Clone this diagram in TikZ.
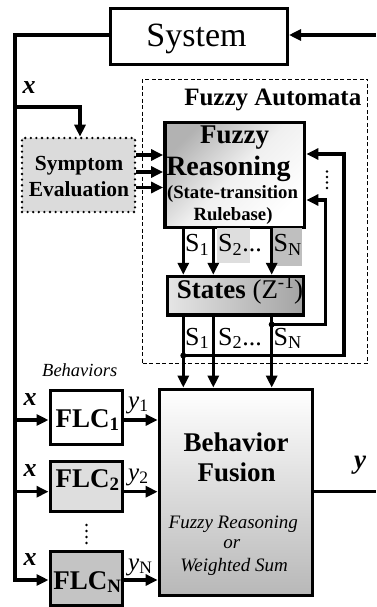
\documentclass[tikz,border=0pt]{standalone}
\usepackage{fontspec}
\setmainfont{Liberation Serif}
\usetikzlibrary{arrows.meta}
\newcommand{\fsz}[1]{\fontsize{#1}{#1}\selectfont}
\begin{document}
\begin{tikzpicture}[x=1pt,y=-1pt,
  conn/.style={line width=3.3pt},
  arr/.style={conn,-{Triangle[length=12pt,width=11pt]}},
  box/.style={draw,line width=3pt,inner sep=0pt,rectangle},
  txt/.style={inner sep=0pt,anchor=base},
  sympbox/.style={draw,line width=2.6pt,dash pattern=on 0pt off 5.6pt,line cap=round,fill=black!14,inner sep=0pt},
  autobox/.style={draw,line width=0.8pt,dash pattern=on 4pt off 2.5pt,inner sep=0pt},
]
\useasboundingbox (0,0) rectangle (376,607);

% dashed automata frame
\node[autobox,minimum width=225pt,minimum height=284.3pt] (fa) at (255.2,221.15) {};
\node[txt,anchor=base east,font=\bfseries\fsz{25}] (fatxt) at (361.5,106) {Fuzzy Automata};

% boxes
\node[box,minimum width=177pt,minimum height=56pt,fill=white] (sys) at (199,36.5) {};
\node[sympbox,minimum width=113pt,minimum height=74pt] (symp) at (78.5,175) {};
\node[box,line width=3.8pt,minimum width=139.5pt,minimum height=105pt,top color=black!30,bottom color=white,middle color=black!6,shading angle=45] (fr) at (234.75,175) {};
\node[box,line width=3.5pt,minimum width=136pt,minimum height=38.5pt,left color=black!10,right color=black!36] (st) at (235.5,295.75) {};
\node[box,line width=3.8pt,minimum width=153pt,minimum height=206pt,top color=white,bottom color=black!28] (bf) at (236,492.5) {};
\node[box,minimum width=72pt,minimum height=54pt,fill=white] (flc1) at (86,417) {};
\node[box,minimum width=72pt,minimum height=50.5pt,fill=black!13] (flc2) at (86,486.25) {};
\node[box,minimum width=72pt,minimum height=53.5pt,fill=black!23] (flcN) at (86,578.25) {};

% label backgrounds
\fill[black!13] (216.7,228) rectangle (250,263);
\fill[black!25] (273,228) rectangle (301.7,266);

% coordinates
\coordinate (ltop) at (15,35);
\coordinate (rin) at (376,35);
\coordinate (brA) at (15,107);
\coordinate (brB) at (80,107);
\coordinate (a1) at (15,420);
\coordinate (a2) at (15,491.7);
\coordinate (aN) at (15,580);
\coordinate (e1) at (137,155);
\coordinate (e2) at (137,172);
\coordinate (e3) at (137,187.5);
\coordinate (c1) at (183.3,0);
\coordinate (c2) at (213.3,0);
\coordinate (c3) at (271.7,0);
\coordinate (dO) at (183.3,355.5);
\coordinate (dI) at (271.7,324.5);
\coordinate (fO1) at (344,355.5);
\coordinate (fO2) at (344,154);
\coordinate (fI1) at (325.5,324.5);
\coordinate (fI2) at (325.5,200);
\coordinate (yout) at (376,491.7);

% connectors
\draw[arr] (sys.west |- ltop) -- (ltop) -- (aN) -- (aN -| flcN.west);
\draw[arr] (rin) -- (rin -| sys.east);
\draw[arr] (brA) -- (brB) -- (brB |- symp.north);
\draw[arr] (a1) -- (a1 -| flc1.west);
\draw[arr] (a2) -- (a2 -| flc2.west);
\draw[arr] (flc1.east |- a1) -- (a1 -| bf.west);
\draw[arr] (flc2.east |- a2) -- (a2 -| bf.west);
\draw[arr] (flcN.east |- aN) -- (aN -| bf.west);
\draw[arr] (symp.east |- e1) -- (e1 -| fr.west);
\draw[arr] (symp.east |- e2) -- (e2 -| fr.west);
\draw[arr] (symp.east |- e3) -- (e3 -| fr.west);
\draw[arr] (c1 |- fr.south) -- (c1 |- st.north);
\draw[arr] (c2 |- fr.south) -- (c2 |- st.north);
\draw[arr] (c3 |- fr.south) -- (c3 |- st.north);
\draw[arr] (c1 |- st.south) -- (c1 |- bf.north);
\draw[arr] (c2 |- st.south) -- (c2 |- bf.north);
\draw[arr] (c3 |- st.south) -- (c3 |- bf.north);
\draw[arr] (dO) -- (fO1) -- (fO2) -- (fO2 -| fr.east);
\draw[arr] (dI) -- (fI1) -- (fI2) -- (fI2 -| fr.east);
\fill (dO) circle (3pt);
\fill (dI) circle (3pt);
\draw[conn] (bf.east |- yout) -- (yout);
\foreach \yy in {171.5,177,182.5,188} \fill (327,\yy) circle (1.3pt);
\foreach \yy in {525,531,537,543} \fill (86.5,\yy) circle (1.3pt);

% texts
\node[txt,font=\fsz{34}] (systxt) at (196.5,47) {System};
\node[txt,font=\bfseries\fsz{21.5}] (symp1) at (79,170) {Symptom};
\node[txt,font=\bfseries\fsz{21.5}] (symp2) at (79,196) {Evaluation};
\node[txt,font=\bfseries\fsz{27}] (fr1) at (234.5,143) {Fuzzy};
\node[txt,font=\bfseries\fsz{28}] (fr2) at (228.5,175) {Reasoning};
\node[txt,font=\bfseries\fsz{18.7}] (fr3) at (232.5,198) {(State-transition};
\node[txt,font=\bfseries\fsz{18.7}] (fr4) at (233,220) {Rulebase)};
\node[txt,font=\fsz{27}] (sttxt) at (240,298) {\textbf{States} (Z\textsuperscript{-1})};
\node[txt,anchor=base west,font=\fsz{26}] (s1a) at (185,251.5) {S\textsubscript{1}};
\node[txt,anchor=base west,font=\fsz{26}] (s2a) at (218,251.5) {S\textsubscript{2}...};
\node[txt,anchor=base west,font=\fsz{26}] (sNa) at (273.5,251.5) {S\textsubscript{N}};
\node[txt,anchor=base west,font=\fsz{26}] (s1b) at (185,345) {S\textsubscript{1}};
\node[txt,anchor=base west,font=\fsz{26}] (s2b) at (218,345) {S\textsubscript{2}...};
\node[txt,anchor=base west,font=\fsz{26}] (sNb) at (273.5,345) {S\textsubscript{N}};
\node[txt,font=\bfseries\fsz{27}] (bf1) at (236,451.7) {Behavior};
\node[txt,font=\bfseries\fsz{27}] (bf2) at (236.7,481.7) {Fusion};
\node[txt,font=\itshape\fsz{19}] (bf3) at (233.3,528.3) {Fuzzy Reasoning};
\node[txt,font=\itshape\fsz{19}] (bf4) at (231.7,548) {or};
\node[txt,font=\itshape\fsz{19}] (bf5) at (234,571.7) {Weighted Sum};
\node[txt,font=\bfseries\fsz{27}] (flc1t) at (87.5,427) {FLC\textsubscript{1}};
\node[txt,font=\bfseries\fsz{27}] (flc2t) at (87.5,487) {FLC\textsubscript{2}};
\node[txt,font=\bfseries\fsz{27}] (flcNt) at (87.5,589) {FLC\textsubscript{N}};
\node[txt,font=\bfseries\itshape\fsz{26}] (x0) at (29,93.3) {x};
\node[txt,font=\bfseries\itshape\fsz{26}] (x1) at (30,405) {x};
\node[txt,font=\bfseries\itshape\fsz{26}] (x2) at (30,476.7) {x};
\node[txt,font=\bfseries\itshape\fsz{26}] (x3) at (30,565) {x};
\node[txt,anchor=base west,font=\fsz{25}] (y1) at (128,408) {\textit{y}\textsubscript{1}};
\node[txt,anchor=base west,font=\fsz{25}] (y2) at (128,480) {\textit{y}\textsubscript{2}};
\node[txt,anchor=base west,font=\fsz{25}] (yN) at (128,570) {\textit{y}\textsubscript{N}};
\node[txt,font=\bfseries\itshape\fsz{27}] (yo) at (360,468) {y};
\node[txt,anchor=base west,font=\itshape\fsz{18.5}] (beh) at (42,376.5) {Behaviors};
\end{tikzpicture}
\end{document}
